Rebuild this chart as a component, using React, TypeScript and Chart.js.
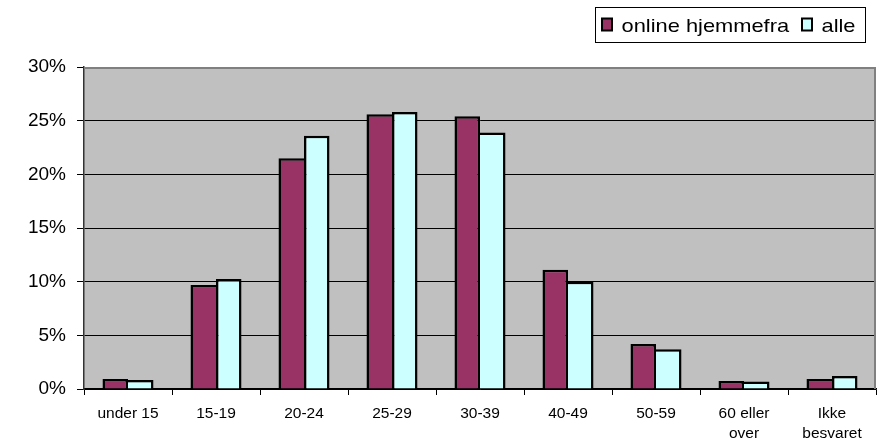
import React, { useEffect, useRef } from "react";
import { Chart, registerables } from "chart.js";

Chart.register(...registerables);

const categories: (string | string[])[] = [
  "under 15",
  "15-19",
  "20-24",
  "25-29",
  "30-39",
  "40-49",
  "50-59",
  ["60 eller", "over"],
  ["Ikke", "besvaret"],
];
const onlineHjemmefra = [0.93, 9.7, 21.5, 25.6, 25.4, 11.1, 4.2, 0.75, 0.93];
const alle = [0.84, 10.25, 23.6, 25.8, 23.9, 10.0, 3.7, 0.7, 1.2];
const seriesNames = ["online hjemmefra", "alle"];
const seriesColors = ["#993366", "#CCFFFF"];
const yTicks = [0, 5, 10, 15, 20, 25, 30];

const FONT = "'Liberation Sans', Arial, sans-serif";

const bgPlugin = {
  id: "plotBg",
  beforeDraw(chart: any) {
    const { ctx, chartArea } = chart;
    ctx.save();
    ctx.fillStyle = "#ffffff";
    ctx.fillRect(0, 0, chart.width, chart.height);
    ctx.fillStyle = "#C0C0C0";
    ctx.fillRect(chartArea.left, chartArea.top, chartArea.right - chartArea.left, chartArea.bottom - chartArea.top);
    ctx.restore();
  },
  beforeDatasetsDraw(chart: any) {
    const { ctx, chartArea } = chart;
    ctx.save();
    ctx.strokeStyle = "#808080";
    ctx.lineWidth = 2;
    ctx.beginPath();
    ctx.moveTo(chartArea.left, chartArea.top + 1);
    ctx.lineTo(chartArea.right - 1, chartArea.top + 1);
    ctx.lineTo(chartArea.right - 1, chartArea.bottom);
    ctx.stroke();
    ctx.restore();
  },
};

const legendPlugin = {
  id: "boxLegend",
  afterDraw(chart: any) {
    const { ctx } = chart;
    ctx.save();
    ctx.fillStyle = "#ffffff";
    ctx.fillRect(595.5, 7.5, 270, 35);
    ctx.strokeStyle = "#000000";
    ctx.lineWidth = 1;
    ctx.strokeRect(595.5, 7.5, 270, 35);
    const items = [
      { sx: 602, tx: 621.5 },
      { sx: 802, tx: 821.5 },
    ];
    items.forEach((it, i) => {
      ctx.fillStyle = seriesColors[i];
      ctx.fillRect(it.sx, 18.5, 10, 12);
      ctx.strokeStyle = "#000";
      ctx.lineWidth = 2;
      ctx.strokeRect(it.sx, 18.5, 10, 12);
      ctx.save();
      ctx.translate(it.tx, 32);
      ctx.scale(1.15, 1);
      ctx.fillStyle = "#000";
      ctx.font = `19px ${FONT}`;
      ctx.textBaseline = "alphabetic";
      ctx.textAlign = "left";
      ctx.fillText(seriesNames[i], 0, 0);
      ctx.restore();
    });
    ctx.restore();
  },
};

export default function App() {
  const ref = useRef<HTMLCanvasElement>(null);
  useEffect(() => {
    document.body.style.margin = "0";
    const canvas = ref.current!;
    const w = 2.5;
    const chart = new Chart(canvas, {
      type: "bar",
      data: {
        labels: categories,
        datasets: [
          {
            label: seriesNames[0],
            data: onlineHjemmefra,
            backgroundColor: seriesColors[0],
            borderColor: "#000",
            borderSkipped: false,
            borderWidth: (c: any) => ({
              top: w,
              left: w,
              bottom: 0,
              right: alle[c.dataIndex] > onlineHjemmefra[c.dataIndex] ? 0 : w,
            }),
            barPercentage: 1,
            categoryPercentage: 0.58,
          },
          {
            label: seriesNames[1],
            data: alle,
            backgroundColor: seriesColors[1],
            borderColor: "#000",
            borderSkipped: false,
            borderWidth: (c: any) => ({
              top: w,
              right: w,
              bottom: 0,
              left: alle[c.dataIndex] > onlineHjemmefra[c.dataIndex] ? w : 0,
            }),
            barPercentage: 1,
            categoryPercentage: 0.58,
          },
        ],
      },
      options: {
        responsive: false,
        animation: false,
        devicePixelRatio: 1,
        layout: { padding: { top: 67, right: 3, left: 0, bottom: 0 } },
        plugins: {
          legend: { display: false },
          tooltip: { enabled: false },
        },
        scales: {
          x: {
            offset: true,
            grid: {
              display: true,
              offset: true,
              drawOnChartArea: false,
              drawTicks: true,
              tickLength: 6,
              color: "#000",
              lineWidth: 1,
            },
            border: { display: true, color: "#000", width: 1.5 },
            ticks: {
              color: "#000",
              font: { family: FONT, size: 15.5, lineHeight: 1.29 },
              padding: 9,
              maxRotation: 0,
              autoSkip: false,
            },
            afterFit: (s: any) => {
              s.height = 52;
            },
          },
          y: {
            min: 0,
            max: 30,
            afterBuildTicks: (s: any) => {
              s.ticks = yTicks.map((v) => ({ value: v }));
            },
            grid: {
              color: "#000",
              lineWidth: 1,
              drawTicks: true,
              tickLength: 7,
            },
            border: { display: true, color: "#333", width: 1.5 },
            ticks: {
              color: "#000",
              font: { family: FONT, size: 19 },
              padding: 11,
              callback: (v: any) => `${v}%`,
            },
            afterFit: (s: any) => {
              s.width = 84;
            },
          },
        },
      },
      plugins: [bgPlugin, legendPlugin],
    } as any);
    return () => chart.destroy();
  }, []);
  return <canvas ref={ref} width={879} height={441} style={{ display: "block" }} />;
}
